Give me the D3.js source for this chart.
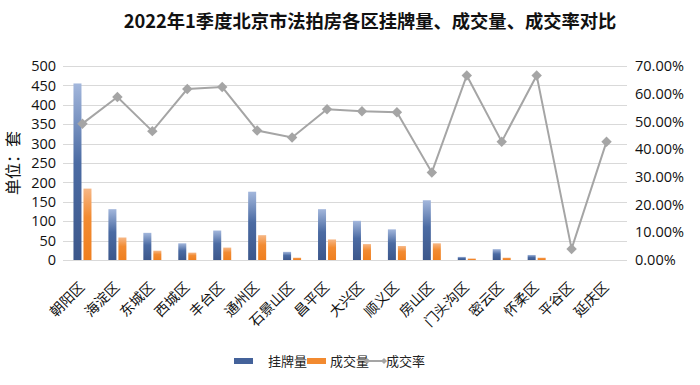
<!DOCTYPE html>
<html>
  <head>
    <meta charset="utf-8">
    <style>
      body {
        margin: 0;
        background: #fff;
        font-family: "Open Sans", "Noto Sans CJK SC", sans-serif;
      }
      .grid line {
        stroke: #d9d9d9;
        stroke-width: 1px;
      }
      .rate-line {
        fill: none;
        stroke: #a5a5a5;
        stroke-width: 2px;
      }
    </style>
  </head>
  <body>
    <script src="https://d3js.org/d3.v7.min.js"></script>
    <script>
    // districts along the x axis
      var districts = ["朝阳区", "海淀区", "东城区", "西城区", "丰台区", "通州区", "石景山区", "昌平区",
                       "大兴区", "顺义区", "房山区", "门头沟区", "密云区", "怀柔区", "平谷区", "延庆区"];
    // listings (挂牌量), deals (成交量), deal rate (成交率)
      var listed = [455, 131, 70, 43, 76, 176, 21, 131, 101, 79, 154, 8, 28, 13, 0, 0];
      var sold   = [184, 58, 24, 19, 32, 64, 6, 53, 41, 36, 43, 4, 6, 6, 0, 0];
      var rate   = [0.492, 0.588, 0.465, 0.617, 0.624, 0.467, 0.442, 0.544,
                    0.537, 0.533, 0.316, 0.666, 0.427, 0.666, 0.040, 0.427];
      var leftTicks = d3.range(0, 501, 50);
      var rightTicks = d3.range(0, 0.71, 0.1);
      var seriesNames = ["挂牌量", "成交量", "成交率"];

      var width = 700, height = 385;
      var margin = {left: 65, right: 76, top: 66, bottom: 125};

      var svg = d3.select("body").append("svg")
          .attr("width", width)
          .attr("height", height);

      var defs = svg.append("defs");
      function gradient(id, stops) {
        var g = defs.append("linearGradient").attr("id", id)
            .attr("x1", 0).attr("y1", 0).attr("x2", 0).attr("y2", 1);
        stops.forEach(s => g.append("stop").attr("offset", s[0]).attr("stop-color", s[1]));
      }
      gradient("blueGrad", [[0, "#a3b7dc"], [0.45, "#4b6ba3"], [1, "#3c578b"]]);
      gradient("orangeGrad", [[0, "#f6b786"], [0.4, "#f28b32"], [1, "#ef7f1f"]]);

    //scales
      var x = d3.scaleBand()
          .domain(districts)
          .range([margin.left, width - margin.right]);
      var yLeft = d3.scaleLinear()
          .domain([0, 500])
          .range([height - margin.bottom, margin.top]);
      var yRight = d3.scaleLinear()
          .domain([0, 0.7])
          .range([height - margin.bottom, margin.top]);
      var cx = d => x(d) + x.bandwidth() / 2;

    //gridlines
      svg.append("g").attr("class", "grid")
        .selectAll("line")
        .data(leftTicks)
        .enter().append("line")
          .attr("x1", margin.left - 2)
          .attr("x2", width - margin.right + 3)
          .attr("y1", d => Math.round(yLeft(d)) + 0.5)
          .attr("y2", d => Math.round(yLeft(d)) + 0.5);

    //left axis
      var leftAxis = svg.append("g")
          .attr("transform", "translate(" + (margin.left - 9) + ",0)")
          .call(d3.axisLeft(yLeft).tickValues(leftTicks).tickSize(0).tickPadding(0));
      leftAxis.select(".domain").remove();
      leftAxis.selectAll("text")
          .attr("font-size", 14.5)
          .attr("font-family", "Open Sans, sans-serif")
          .attr("fill", "#111");

    //right axis
      var rightAxis = svg.append("g")
          .attr("transform", "translate(" + (width - margin.right + 11) + ",0)")
          .call(d3.axisRight(yRight).tickValues(rightTicks).tickSize(0).tickPadding(0)
            .tickFormat(d => (d * 100).toFixed(2) + "%"));
      rightAxis.select(".domain").remove();
      rightAxis.selectAll("text")
          .attr("font-size", 14.5)
          .attr("font-family", "Open Sans, sans-serif")
          .attr("fill", "#111");

    //x axis labels
      var xAxis = svg.append("g")
          .attr("transform", "translate(0," + (height - margin.bottom) + ")")
          .call(d3.axisBottom(x).tickSize(0).tickPadding(0));
      xAxis.select(".domain").remove();
      xAxis.selectAll("text")
          .attr("font-size", 14)
          .attr("font-family", "Noto Sans CJK SC, sans-serif")
          .attr("fill", "#111")
          .attr("text-anchor", "end")
          .attr("dy", 0)
          .attr("transform", "translate(3,28) rotate(-45)");

    //bars
      svg.append("g").selectAll("rect")
        .data(districts)
        .enter().append("rect")
          .attr("x", d => cx(d) - 9)
          .attr("width", 8)
          .attr("y", (d, i) => yLeft(listed[i]))
          .attr("height", (d, i) => yLeft(0) - yLeft(listed[i]))
          .attr("fill", "url(#blueGrad)");
      svg.append("g").selectAll("rect")
        .data(districts)
        .enter().append("rect")
          .attr("x", d => cx(d) + 1)
          .attr("width", 8)
          .attr("y", (d, i) => yLeft(sold[i]))
          .attr("height", (d, i) => yLeft(0) - yLeft(sold[i]))
          .attr("fill", "url(#orangeGrad)");

    //rate line with diamond markers
      var line = d3.line()
          .x((d, i) => cx(districts[i]))
          .y(d => yRight(d));
      svg.append("path")
          .datum(rate)
          .attr("class", "rate-line")
          .attr("d", line);
      var diamond = d3.symbol().type(d3.symbolDiamond2).size(70);
      svg.append("g").selectAll("path")
        .data(rate)
        .enter().append("path")
          .attr("d", diamond)
          .attr("fill", "#a5a5a5")
          .attr("transform", (d, i) => "translate(" + cx(districts[i]) + "," + yRight(d) + ")");

    //title
      svg.append("text")
          .attr("x", 370)
          .attr("y", 28)
          .attr("text-anchor", "middle")
          .attr("font-size", 18.3)
          .attr("font-weight", "bold")
          .attr("font-family", "Noto Sans CJK SC, sans-serif")
          .attr("fill", "#111")
          .text("2022年1季度北京市法拍房各区挂牌量、成交量、成交率对比");

    //y axis title
      svg.append("text")
          .attr("transform", "translate(19,163) rotate(-90)")
          .attr("text-anchor", "middle")
          .attr("font-size", 16)
          .attr("font-family", "Noto Sans CJK SC, sans-serif")
          .attr("fill", "#111")
          .text("单位：套");

    //legend
      var legend = svg.append("g").attr("transform", "translate(0,361)")
          .attr("font-family", "Noto Sans CJK SC, sans-serif")
          .attr("font-size", 13)
          .attr("fill", "#222");
      legend.append("rect").attr("x", 234).attr("y", -3).attr("width", 19).attr("height", 6).attr("fill", "#44629a");
      legend.append("text").attr("x", 268).attr("y", 5).text(seriesNames[0]);
      legend.append("rect").attr("x", 307).attr("y", -3).attr("width", 19).attr("height", 6).attr("fill", "#f28a30");
      legend.append("text").attr("x", 330).attr("y", 5).text(seriesNames[1]);
      legend.append("line").attr("x1", 367).attr("x2", 384).attr("y1", 0).attr("y2", 0)
          .attr("stroke", "#a5a5a5").attr("stroke-width", 2);
      legend.selectAll(".lm").data([367, 384]).enter().append("path")
          .attr("d", d3.symbol().type(d3.symbolDiamond2).size(24))
          .attr("fill", "#a5a5a5")
          .attr("transform", d => "translate(" + d + ",0)");
      legend.append("text").attr("x", 386).attr("y", 5).text(seriesNames[2]);
    </script>
  </body>
</html>
